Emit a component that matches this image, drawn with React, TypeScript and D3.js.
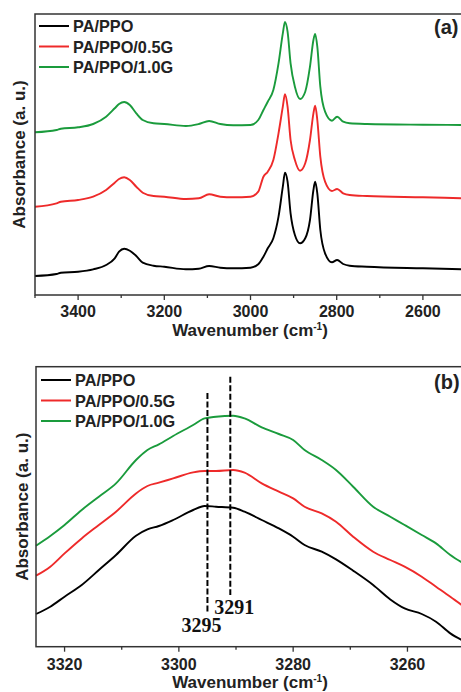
import React, { useEffect, useRef } from "react";
import * as d3 from "d3";

// panel (a): full C-H / N-H region
const waveA = [3500, 3450, 3440, 3400, 3365, 3335, 3315, 3305, 3293, 3280, 3265, 3250, 3225, 3200, 3150, 3120, 3096, 3070, 3040, 3000, 2982, 2970, 2960, 2947, 2935, 2925, 2920, 2914, 2907, 2897, 2885, 2873, 2862, 2854, 2850, 2845, 2838, 2827, 2811, 2799, 2785, 2770, 2730, 2600, 2500];
const blackA = [0.19, 0.21, 0.223, 0.233, 0.257, 0.3, 0.367, 0.433, 0.463, 0.443, 0.39, 0.323, 0.293, 0.283, 0.257, 0.263, 0.29, 0.273, 0.267, 0.273, 0.307, 0.383, 0.467, 0.567, 0.783, 1.083, 1.223, 1.133, 0.817, 0.6, 0.517, 0.567, 0.75, 1.05, 1.133, 1.017, 0.65, 0.417, 0.327, 0.35, 0.31, 0.293, 0.283, 0.267, 0.257];
const redA = [0.883, 0.917, 0.933, 0.95, 0.983, 1.05, 1.123, 1.16, 1.177, 1.15, 1.083, 1.023, 0.99, 0.983, 0.96, 0.967, 1.007, 0.983, 0.977, 0.983, 1.033, 1.183, 1.233, 1.35, 1.617, 1.883, 2.007, 1.883, 1.55, 1.35, 1.243, 1.317, 1.55, 1.817, 1.893, 1.75, 1.383, 1.133, 1.04, 1.06, 1.017, 1.0, 0.99, 0.977, 0.967];
const greenA = [1.627, 1.65, 1.663, 1.677, 1.71, 1.783, 1.867, 1.91, 1.93, 1.9, 1.817, 1.75, 1.717, 1.71, 1.69, 1.71, 1.74, 1.71, 1.697, 1.7, 1.75, 1.85, 1.933, 2.05, 2.317, 2.617, 2.73, 2.633, 2.317, 2.083, 1.96, 2.033, 2.283, 2.55, 2.61, 2.483, 2.083, 1.833, 1.743, 1.783, 1.733, 1.717, 1.71, 1.703, 1.7];
const ticksA = [3400, 3200, 3000, 2800, 2600];

// panel (b): N-H band zoom
const waveB = [3325, 3322.5, 3320, 3317, 3314, 3311, 3307.5, 3305.5, 3303.5, 3301, 3297.5, 3295.5, 3293.5, 3290.5, 3288.5, 3285.5, 3282.5, 3280, 3278, 3275, 3272.5, 3269.5, 3266, 3263, 3260.5, 3257.5, 3255, 3252.5, 3250.5];
const blackB = [0.327, 0.4, 0.5, 0.617, 0.767, 0.917, 1.11, 1.173, 1.207, 1.267, 1.367, 1.407, 1.4, 1.39, 1.35, 1.267, 1.183, 1.1, 1.017, 0.95, 0.873, 0.76, 0.617, 0.473, 0.383, 0.327, 0.25, 0.133, 0.067];
const redB = [0.71, 0.8, 0.933, 1.083, 1.217, 1.35, 1.533, 1.607, 1.64, 1.683, 1.743, 1.757, 1.757, 1.767, 1.74, 1.633, 1.55, 1.483, 1.4, 1.333, 1.25, 1.1, 0.95, 0.867, 0.8, 0.7, 0.6, 0.5, 0.417];
const greenB = [1.01, 1.107, 1.217, 1.367, 1.5, 1.633, 1.867, 1.967, 2.023, 2.107, 2.217, 2.283, 2.3, 2.31, 2.283, 2.193, 2.127, 2.067, 1.967, 1.867, 1.767, 1.6, 1.4, 1.3, 1.217, 1.117, 1.033, 0.917, 0.843];
const ticksB = [3320, 3300, 3280, 3260];
const peakMarks = [3295, 3291];

const names = ["PA/PPO", "PA/PPO/0.5G", "PA/PPO/1.0G"];
const colors = ["#000000", "#ee2a2a", "#1a9b3c"];

const FONT = "'Liberation Sans', Arial, sans-serif";

function drawPanel(
  svg: d3.Selection<SVGSVGElement, unknown, null, undefined>,
  opts: {
    top: number; bottom: number; left: number; right: number;
    xDomain: [number, number]; yMax: number;
    wave: number[]; series: number[][]; ticks: number[]; minorStep: number;
    tag: string; tagY: number; legendY: number; legendX: number;
    tickLabelY: number; xLabelY: number; yLabelX: number;
  }
) {
  const g = svg.append("g");
  const x = d3.scaleLinear().domain(opts.xDomain).range([opts.left, opts.right]);
  const y = d3.scaleLinear().domain([0, opts.yMax]).range([opts.bottom, opts.top]);

  const line = d3.line<[number, number]>()
    .x((d) => x(d[0]))
    .y((d) => y(d[1]))
    .curve(d3.curveMonotoneX);

  opts.series.forEach((vals, i) => {
    const pts: [number, number][] = opts.wave.map((w, j) => [w, vals[j]]);
    g.append("path")
      .attr("d", line(pts))
      .attr("fill", "none")
      .attr("stroke", colors[i])
      .attr("stroke-width", 1.9)
      .attr("stroke-linejoin", "round");
  });

  // frame
  g.append("rect")
    .attr("x", opts.left)
    .attr("y", opts.top)
    .attr("width", opts.right - opts.left)
    .attr("height", opts.bottom - opts.top)
    .attr("fill", "none")
    .attr("stroke", "#333")
    .attr("stroke-width", 1.5);

  // ticks
  const [d0, d1] = opts.xDomain;
  const lo = Math.min(d0, d1), hi = Math.max(d0, d1);
  const minor = d3.range(Math.ceil(lo / opts.minorStep) * opts.minorStep, hi + 0.001, opts.minorStep);
  minor.forEach((t) => {
    const major = opts.ticks.includes(t);
    g.append("line")
      .attr("x1", x(t)).attr("x2", x(t))
      .attr("y1", opts.bottom).attr("y2", opts.bottom + (major ? 5 : 3))
      .attr("stroke", "#333").attr("stroke-width", 1.3);
  });
  opts.ticks.forEach((t) => {
    g.append("text")
      .attr("x", x(t))
      .attr("y", opts.tickLabelY)
      .attr("text-anchor", "middle")
      .attr("font-family", FONT)
      .attr("font-weight", "bold")
      .attr("font-size", 16)
      .attr("fill", "#222")
      .text(t);
  });

  // axis labels
  const xl = g.append("text")
    .attr("x", 250)
    .attr("y", opts.xLabelY)
    .attr("text-anchor", "middle")
    .attr("font-family", FONT)
    .attr("font-weight", "bold")
    .attr("font-size", 17)
    .attr("fill", "#222");
  xl.append("tspan").text("Wavenumber (cm");
  xl.append("tspan").attr("dy", -6).attr("font-size", 10).text("-1");
  xl.append("tspan").attr("dy", 6).text(")");

  g.append("text")
    .attr("transform", `translate(${opts.yLabelX},${(opts.top + opts.bottom) / 2}) rotate(-90)`)
    .attr("text-anchor", "middle")
    .attr("font-family", FONT)
    .attr("font-weight", "bold")
    .attr("font-size", 17)
    .attr("fill", "#222")
    .text("Absorbance (a. u.)");

  // legend
  names.forEach((n, i) => {
    const ly = opts.legendY + i * 20.5;
    g.append("line")
      .attr("x1", opts.legendX).attr("x2", opts.legendX + 30)
      .attr("y1", ly).attr("y2", ly)
      .attr("stroke", colors[i]).attr("stroke-width", 2);
    g.append("text")
      .attr("x", opts.legendX + 34)
      .attr("y", ly + 6)
      .attr("font-family", FONT)
      .attr("font-weight", "bold")
      .attr("font-size", 16.3)
      .attr("fill", "#222")
      .text(n);
  });

  g.append("text")
    .attr("x", 434)
    .attr("y", opts.tagY)
    .attr("font-family", FONT)
    .attr("font-weight", "bold")
    .attr("font-size", 20)
    .attr("fill", "#222")
    .text(opts.tag);

  return { x, y, g };
}

const App = () => {
  const ref = useRef<SVGSVGElement>(null);

  useEffect(() => {
    const svg = d3.select(ref.current as SVGSVGElement);
    svg.selectAll("*").remove();

    drawPanel(svg, {
      top: 14, bottom: 295, left: 35, right: 466,
      xDomain: [3500, 2500], yMax: 2.81,
      wave: waveA, series: [blackA, redA, greenA], ticks: ticksA, minorStep: 100,
      tag: "(a)", tagY: 34, legendY: 26, legendX: 39,
      tickLabelY: 317, xLabelY: 336, yLabelX: 25,
    });

    const b = drawPanel(svg, {
      top: 366.7, bottom: 646.7, left: 36, right: 464.6,
      xDomain: [3325, 3250], yMax: 2.8,
      wave: waveB, series: [blackB, redB, greenB], ticks: ticksB, minorStep: 10,
      tag: "(b)", tagY: 389, legendY: 380, legendX: 41,
      tickLabelY: 670, xLabelY: 688, yLabelX: 28,
    });

    // dashed peak markers
    const dashTop = [393, 376.7];
    const dashBot = [611.7, 595];
    const labelY = [632, 614];
    const labelDx = [-6, 4];
    peakMarks.forEach((p, i) => {
      b.g.append("line")
        .attr("x1", b.x(p)).attr("x2", b.x(p))
        .attr("y1", dashTop[i]).attr("y2", dashBot[i])
        .attr("stroke", "#000").attr("stroke-width", 2)
        .attr("stroke-dasharray", "6,2.5");
      b.g.append("text")
        .attr("x", b.x(p) + labelDx[i])
        .attr("y", labelY[i])
        .attr("text-anchor", "middle")
        .attr("font-family", "'Liberation Serif', 'Times New Roman', serif")
        .attr("font-weight", "bold")
        .attr("font-size", 20)
        .attr("fill", "#111")
        .text(p);
    });
  }, []);

  return (
    <div style={{ position: "absolute", left: 0, top: 0, width: 461, height: 692, overflow: "hidden", background: "#fff" }}>
      <svg ref={ref} width={461} height={692} style={{ display: "block" }} />
    </div>
  );
};

export default App;
